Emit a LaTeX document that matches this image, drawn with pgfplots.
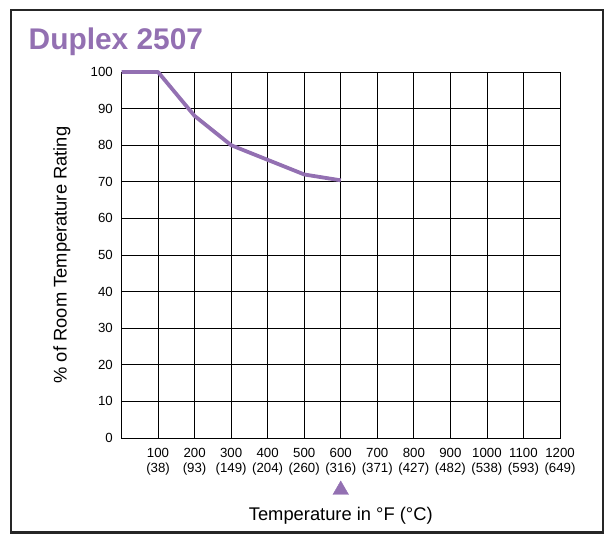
\documentclass[border=0pt]{standalone}
\usepackage{fontspec}
\setmainfont{Liberation Sans}
\usepackage{pgfplots}
\pgfplotsset{compat=1.18}
\definecolor{dpurple}{RGB}{147,112,178}
\begin{document}
\begin{tikzpicture}
\useasboundingbox (0,0) rectangle (612bp,534bp);
\draw[line width=2.2bp, black!85] (11bp,1.5bp) rectangle (603bp,524bp);
\node[anchor=base west, text=dpurple, font=\fontsize{30}{35}\selectfont\bfseries, inner sep=0pt] at (28.5bp,484bp) {Duplex 2507};
\begin{axis}[
  at={(121.5bp,96bp)}, anchor=south west,
  scale only axis, width=438.5bp, height=366bp,
  xmin=0, xmax=1200, ymin=0, ymax=100,
  xtick={100,200,...,1200},
  xticklabels={100\\(38),200\\(93),300\\(149),400\\(204),500\\(260),600\\(316),700\\(371),800\\(427),900\\(482),1000\\(538),1100\\(593),1200\\(649)},
  ytick={0,10,...,100},
  major tick length=0pt,
  grid=major,
  major grid style={black, line width=0.8bp},
  axis line style={black, line width=0.9bp},
  /pgf/number format/assume math mode=true,
  xticklabel style={align=center, font=\fontsize{13.3}{14.8}\selectfont, inner sep=0pt, yshift=-10.5bp},
  yticklabel style={font=\fontsize{13.3}{15}\selectfont, inner sep=0pt, xshift=-8.5bp},
  every axis x label/.style={at={(axis description cs:0.5,-0.226)}, anchor=base, font=\fontsize{18.4}{21}\selectfont},
  every axis y label/.style={at={(axis description cs:-0.1357,0.5)}, rotate=90, anchor=center, font=\fontsize{18.4}{21}\selectfont},
  xlabel={Temperature in °F (°C)},
  ylabel={\% of Room Temperature Rating},
  clip=false,
]
\addplot[dpurple, line width=3.8bp, line join=round] coordinates {
  (0,100) (100,100) (200,88) (300,80) (400,76) (500,72) (600,70.4)
};
\addplot[only marks, mark=triangle*, mark size=9bp, color=dpurple] coordinates {(600,-14.2)};
\end{axis}
\end{tikzpicture}
\end{document}
